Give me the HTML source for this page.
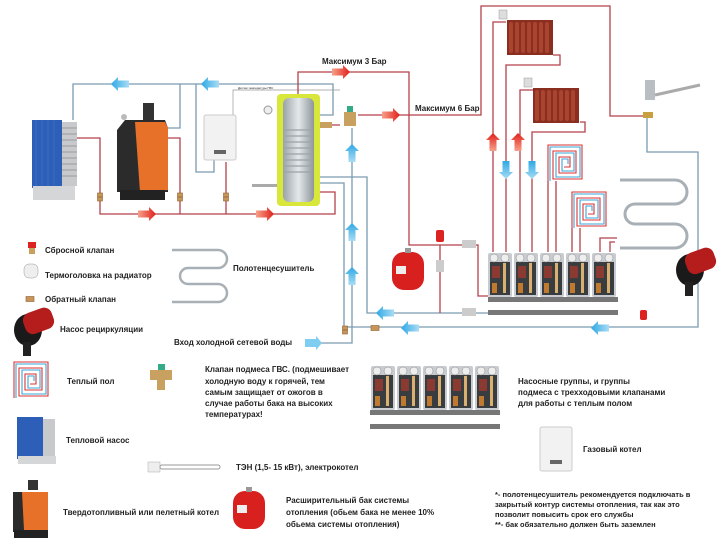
<!DOCTYPE html>
<html><head><meta charset="utf-8"><style>
html,body{margin:0;padding:0;background:#fff;width:722px;height:549px;overflow:hidden}
svg{display:block}
text{font-family:"Liberation Sans",sans-serif;font-weight:bold;fill:#222;font-size:8px}
</style></head><body>
<svg width="722" height="549" viewBox="0 0 722 549" xmlns="http://www.w3.org/2000/svg">
<defs>
<linearGradient id="rg" x1="0" x2="1"><stop offset="0" stop-color="#f7a08a"/><stop offset="1" stop-color="#e0201a"/></linearGradient>
<linearGradient id="bg" x1="1" x2="0"><stop offset="0" stop-color="#a8dcf5"/><stop offset="1" stop-color="#2fa8e4"/></linearGradient>
<linearGradient id="bgu" y1="1" y2="0" x1="0" x2="0"><stop offset="0" stop-color="#a8dcf5"/><stop offset="1" stop-color="#2fa8e4"/></linearGradient>
<linearGradient id="rgu" y1="1" y2="0" x1="0" x2="0"><stop offset="0" stop-color="#f7a08a"/><stop offset="1" stop-color="#e0201a"/></linearGradient>
<linearGradient id="sil" x1="0" x2="1"><stop offset="0" stop-color="#9aa3a8"/><stop offset=".5" stop-color="#e4e8ea"/><stop offset="1" stop-color="#8d969b"/></linearGradient>
<g id="ar"><path d="M-9,-3.5H2V-7L9,0L2,7V3.5H-9Z" fill="url(#rg)"/></g>
<g id="al"><path d="M9,-3.5H-2V-7L-9,0L-2,7V3.5H9Z" fill="url(#bg)"/></g>
<g id="au"><path d="M-3.5,9V-2H-7L0,-9L7,-2H3.5V9Z" fill="url(#bgu)"/></g>
<g id="aru"><path d="M-3.5,9V-2H-7L0,-9L7,-2H3.5V9Z" fill="url(#rgu)"/></g>
<g id="ad"><path d="M-3.5,-9V2H-7L0,9L7,2H3.5V-9Z" fill="url(#bgu)"/></g>
<g id="cv"><rect x="-2.5" y="-4" width="5" height="8" fill="#c8965a" stroke="#8a6030" stroke-width=".6"/><line x1="-2.5" y1="0" x2="2.5" y2="0" stroke="#7a5020" stroke-width=".6"/></g>
<g id="cvh"><rect x="-4" y="-2.5" width="8" height="5" fill="#c8965a" stroke="#8a6030" stroke-width=".6"/></g>
<g id="rad"><rect x="0" y="0" width="46" height="35" fill="#8a2e20"/>
<g fill="#a84430"><rect x="2" y="2" width="4" height="31" rx="2"/><rect x="8" y="2" width="4" height="31" rx="2"/><rect x="14" y="2" width="4" height="31" rx="2"/><rect x="20" y="2" width="4" height="31" rx="2"/><rect x="26" y="2" width="4" height="31" rx="2"/><rect x="32" y="2" width="4" height="31" rx="2"/><rect x="38" y="2" width="4" height="31" rx="2"/></g></g>
<g id="spiral" fill="none" stroke-width="1.1"><path d="M0,36V0H34V34H5V6H28V28H11V12H22V22H16" stroke="#d33"/><path d="M2,36V2H32V32H8V8H26V26H14V14H20V19" stroke="#3aa6d8"/></g>
<g id="pump"><ellipse cx="0" cy="0" rx="14" ry="16" fill="#1a1a1a"/><rect x="-2" y="-16" width="30" height="22" rx="8" fill="#b51d1d" transform="rotate(-20)"/><rect x="-5" y="12" width="8" height="14" fill="#222"/></g>
<g id="tank"><rect x="0" y="4" width="32" height="38" rx="12" fill="#d8201e"/><rect x="13" y="0" width="6" height="5" fill="#999"/><rect x="4" y="18" width="10" height="8" fill="#eee"/></g>
<g id="grp"><rect x="0" y="0" width="24" height="44" rx="2" fill="#c8ccd0"/><rect x="2" y="9" width="20" height="33" fill="#3a3d40"/><circle cx="6" cy="5" r="4" fill="#eee" stroke="#888" stroke-width=".5"/><circle cx="17" cy="5" r="4" fill="#eee" stroke="#888" stroke-width=".5"/><rect x="4" y="13" width="8" height="12" fill="#8a3a30"/><rect x="15" y="10" width="3" height="30" fill="#d9b070"/><rect x="4" y="30" width="5" height="10" fill="#c07a30"/></g>
</defs>

<g fill="none" stroke="#7a9bb0" stroke-width="1.3">
<path d="M73,120V84H333V115H320"/>
<path d="M168,128H180V84"/>
<path d="M196,84V172H214V160"/>
<path d="M320,177H367V313H488"/>
<path d="M320,183H344V327H698V152H647V118"/>
<path d="M352,128V343H310"/>
</g>
<path d="M233,115V90H340" fill="none" stroke="#999" stroke-width=".7"/>
<text x="238" y="89" style="font-size:3px;font-weight:normal">Датчик температуры ГВС</text>

<g fill="none" stroke="#b5424a" stroke-width="1.3">
<path d="M77,138H100V214H335V192H320"/>
<path d="M168,138H180V214"/>
<path d="M226,162V214"/>
<path d="M298,94V72H409V245H478V296H488"/>
<path d="M320,125H340"/>
<path d="M358,115H481V6H610V116H645"/>
<path d="M440,245V313"/>
<path d="M493,252V22H506"/>
<path d="M553,55H560V65H506V252"/>
<path d="M520,252V90H533"/>
<path d="M580,122H585V132H532V252"/>
<path d="M548,252V181"/><path d="M556,252V181"/>
<path d="M572,252V228"/><path d="M580,252V228"/>
<path d="M600,252V238H617"/><path d="M610,252V242H615"/>
</g>

<use href="#al" x="120" y="84"/><use href="#al" x="210" y="84"/>
<use href="#ar" x="147" y="214"/><use href="#ar" x="265" y="214"/>
<use href="#ar" x="341" y="72"/><use href="#ar" x="391" y="115"/>
<use href="#au" x="352" y="153"/><use href="#au" x="352" y="232"/><use href="#au" x="352" y="276"/>
<path d="M305,339H316V336L322,343L316,350V347H305Z" fill="#7fcdf0"/>
<use href="#al" x="385" y="313"/><use href="#al" x="410" y="328"/><use href="#al" x="600" y="328"/>
<use href="#aru" x="493" y="142"/><use href="#aru" x="518" y="142"/>
<use href="#ad" x="506" y="170"/><use href="#ad" x="532" y="170"/>

<use href="#cv" x="100" y="197"/><use href="#cv" x="180" y="197"/><use href="#cv" x="226" y="197"/><use href="#cv" x="345" y="330"/>
<use href="#cvh" x="375" y="328"/>

<rect x="32" y="120" width="30" height="68" fill="#2d5fb8"/>
<g stroke="#4b7ad0" stroke-width=".5"><line x1="36" y1="120" x2="36" y2="188"/><line x1="42" y1="120" x2="42" y2="188"/><line x1="48" y1="120" x2="48" y2="188"/><line x1="54" y1="120" x2="54" y2="188"/></g>
<rect x="62" y="122" width="15" height="64" fill="#c7c9cc"/>
<g stroke="#888" stroke-width=".7"><line x1="62" y1="128" x2="77" y2="128"/><line x1="62" y1="134" x2="77" y2="134"/><line x1="62" y1="140" x2="77" y2="140"/><line x1="62" y1="146" x2="77" y2="146"/><line x1="62" y1="152" x2="77" y2="152"/><line x1="62" y1="158" x2="77" y2="158"/><line x1="62" y1="164" x2="77" y2="164"/><line x1="62" y1="170" x2="77" y2="170"/><line x1="62" y1="176" x2="77" y2="176"/></g>
<rect x="33" y="186" width="42" height="14" fill="#d4d6d8"/>

<rect x="143" y="103" width="11" height="20" fill="#333"/>
<path d="M117,130L125,120H165L168,128V192H117Z" fill="#2b2b2b"/>
<path d="M135,122H165L168,128V190L140,192Z" fill="#e8712a"/>
<rect x="120" y="190" width="45" height="10" fill="#222"/>
<circle cx="124" cy="117" r="3" fill="#bbb"/>

<rect x="204" y="115" width="32" height="45" rx="2" fill="#f2f2f2" stroke="#ccc"/>
<rect x="214" y="150" width="12" height="4" fill="#666"/>

<rect x="277" y="94" width="43" height="112" rx="4" fill="#d9e63a"/>
<rect x="283" y="98" width="31" height="104" rx="6" fill="url(#sil)"/>
<g stroke="#9aa3a8" stroke-width="1.2" fill="none"><path d="M284,130H313M284,136H313M284,142H313M284,148H313M284,154H313M284,160H313M284,166H313M284,172H313"/></g>
<circle cx="268" cy="110" r="4" fill="#eee" stroke="#999"/>
<rect x="252" y="184" width="25" height="3" fill="#aaa"/>
<rect x="344" y="112" width="12" height="14" fill="#c8a060"/><rect x="347" y="106" width="6" height="6" fill="#3a8"/>
<rect x="320" y="122" width="12" height="6" fill="#c8a060"/>

<use href="#tank" x="392" y="248"/>
<rect x="436" y="230" width="8" height="12" fill="#d22" rx="2"/>
<rect x="436" y="260" width="8" height="12" fill="#ccc"/>
<rect x="462" y="240" width="14" height="8" fill="#ccc"/><rect x="462" y="308" width="14" height="8" fill="#ccc"/>

<use href="#rad" x="507" y="20"/><use href="#rad" x="533" y="88"/>
<rect x="499" y="10" width="8" height="9" fill="#ddd" stroke="#999" stroke-width=".5"/>
<rect x="524" y="78" width="8" height="9" fill="#ddd" stroke="#999" stroke-width=".5"/>

<use href="#spiral" x="548" y="145"/><use href="#spiral" x="572" y="192"/>

<path d="M620,180H675a12,12 0 0 1 0,24H635a10,10 0 0 0 0,20H675a12,12 0 0 1 0,24H620" fill="none" stroke="#a8b0b5" stroke-width="3"/>

<path d="M645,80h10v20h-10z" fill="#b8bec2"/><path d="M655,95L700,85" stroke="#aaa" stroke-width="3"/><rect x="643" y="112" width="10" height="6" fill="#c9a040"/>

<use href="#pump" x="690" y="270"/>
<rect x="640" y="310" width="7" height="10" rx="2" fill="#d22"/>

<use href="#grp" x="488" y="253"/><use href="#grp" x="514" y="253"/><use href="#grp" x="540" y="253"/><use href="#grp" x="566" y="253"/><use href="#grp" x="592" y="253"/>
<rect x="488" y="297" width="130" height="5" fill="#777"/><rect x="488" y="310" width="130" height="5" fill="#777"/>

<text x="322" y="64">Максимум 3 Бар</text>
<text x="415" y="111">Максимум 6 Бар</text>

<rect x="28" y="242" width="8" height="6" fill="#d22"/><rect x="29" y="248" width="6" height="6" fill="#c8a060"/>
<text x="45" y="253">Сбросной клапан</text>
<rect x="24" y="264" width="14" height="14" rx="5" fill="#eee" stroke="#999" stroke-width=".5"/>
<text x="45" y="278">Термоголовка на радиатор</text>
<use href="#cvh" x="30" y="299"/>
<text x="45" y="302">Обратный клапан</text>
<use href="#pump" x="28" y="330"/>
<text x="60" y="332">Насос рециркуляции</text>
<path d="M172,254H218a9,9 0 0 1 0,18H188a8,8 0 0 0 0,16H218a9,9 0 0 1 0,18H172" fill="none" stroke="#a8b0b5" stroke-width="2.5" transform="translate(0,-4)"/>
<text x="233" y="271">Полотенцесушитель</text>
<text x="174" y="345">Вход холодной сетевой воды</text>
<use href="#spiral" x="14" y="362"/>
<text x="67" y="384">Теплый пол</text>
<rect x="150" y="370" width="22" height="10" fill="#c8a060"/><rect x="158" y="364" width="7" height="6" fill="#3a8"/><rect x="157" y="380" width="8" height="10" fill="#c8a060"/>
<text x="205" y="372">Клапан подмеса ГВС.  (подмешивает</text>
<text x="205" y="384">холодную воду к горячей, тем</text>
<text x="205" y="395">самым защищает от ожогов в</text>
<text x="205" y="406">случае работы бака на высоких</text>
<text x="205" y="417">температурах!</text>
<rect x="17" y="417" width="26" height="42" fill="#2d5fb8"/><rect x="43" y="419" width="12" height="40" fill="#c7c9cc"/><rect x="18" y="456" width="38" height="8" fill="#d4d6d8"/>
<text x="66" y="443">Тепловой насос</text>
<rect x="148" y="462" width="12" height="10" fill="#eee" stroke="#aaa" stroke-width=".5"/><rect x="160" y="465" width="60" height="4" rx="2" fill="none" stroke="#999"/>
<text x="236" y="470">ТЭН (1,5- 15 кВт), электрокотел</text>
<rect x="28" y="480" width="10" height="10" fill="#333"/>
<path d="M13,492H48V532H13Z" fill="#2b2b2b"/><path d="M22,492H48V530H24Z" fill="#e8712a"/><rect x="14" y="530" width="34" height="8" fill="#222"/>
<text x="63" y="515">Твердотопливный или пелетный котел</text>
<use href="#tank" x="233" y="487"/>
<text x="286" y="503">Расширительный бак системы</text>
<text x="286" y="515">отопления (обьем бака не менее 10%</text>
<text x="286" y="527">обьема системы отопления)</text>
<use href="#grp" x="371" y="366"/><use href="#grp" x="397" y="366"/><use href="#grp" x="423" y="366"/><use href="#grp" x="449" y="366"/><use href="#grp" x="475" y="366"/>
<rect x="370" y="410" width="130" height="5" fill="#777"/><rect x="370" y="424" width="130" height="5" fill="#777"/>
<text x="518" y="384">Насосные группы, и группы</text>
<text x="518" y="395">подмеса с трехходовыми клапанами</text>
<text x="518" y="406">для работы с теплым полом</text>
<rect x="540" y="427" width="32" height="44" rx="2" fill="#f2f2f2" stroke="#ccc"/><rect x="550" y="460" width="12" height="4" fill="#666"/>
<text x="583" y="452">Газовый котел</text>
<text x="495" y="497" style="font-size:7.5px">*- полотенцесушитель рекомендуется подключать в</text>
<text x="495" y="507" style="font-size:7.5px">закрытый контур системы отопления, так как это</text>
<text x="495" y="517" style="font-size:7.5px">позволит повысить срок его службы</text>
<text x="495" y="527" style="font-size:7.5px">**- бак обязательно должен быть заземлен</text>
</svg>
</body></html>
